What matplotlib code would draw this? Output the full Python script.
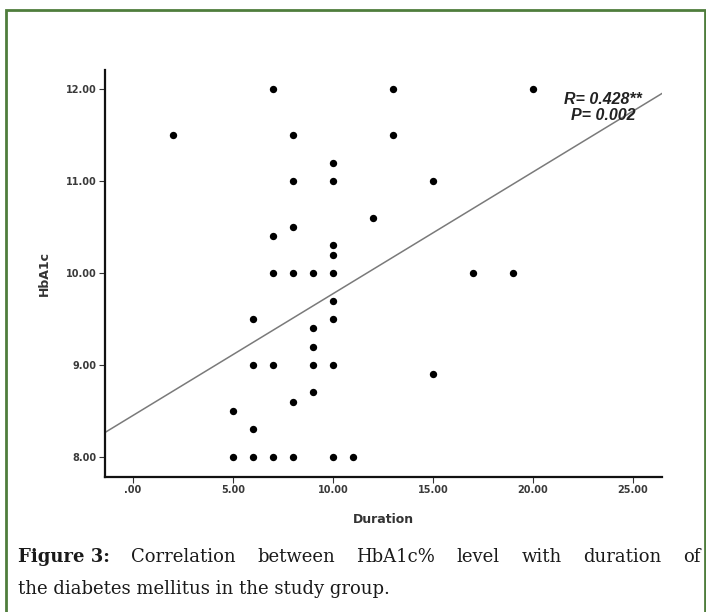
import numpy as np
import matplotlib
matplotlib.use("Agg")
from matplotlib import pyplot as plt
from matplotlib.patches import Rectangle

# durations (years) and HbA1c values
duration = [7, 13, 20,
            2, 8, 13,
            10,
            8, 10, 15,
            12, 8, 7, 10, 10,
            7, 8, 9, 10, 17, 19,
            10, 6, 10, 9, 9,
            6, 7, 9, 10,
            15, 9, 8, 5, 6,
            5, 6, 7, 8, 10, 11]
hba1c = [12.0, 12.0, 12.0,
         11.5, 11.5, 11.5,
         11.2,
         11.0, 11.0, 11.0,
         10.6, 10.5, 10.4, 10.3, 10.2,
         10.0, 10.0, 10.0, 10.0, 10.0, 10.0,
         9.7, 9.5, 9.5, 9.4, 9.2,
         9.0, 9.0, 9.0, 9.0,
         8.9, 8.7, 8.6, 8.5, 8.3,
         8.0, 8.0, 8.0, 8.0, 8.0, 8.0]

# fit line as drawn in the figure
fit_intercept = 8.45
fit_slope = 0.1325

x_ticks = [0, 5, 10, 15, 20, 25]
x_labels = ['.00', '5.00', '10.00', '15.00', '20.00', '25.00']
y_ticks = [8, 9, 10, 11, 12]
y_labels = ['8.00', '9.00', '10.00', '11.00', '12.00']

stats_text = 'R= 0.428**\nP= 0.002'
caption_bold = 'Figure 3:'
caption_line1 = 'Correlation between HbA1c% level with duration of'
caption_line2 = 'the diabetes mellitus in the study group.'

W, H = 706, 612
fig = plt.figure(figsize=(W / 100, H / 100), dpi=100)
fig.patch.set_facecolor('white')

ax = fig.add_axes([105 / W, 1 - 477 / H, (662 - 105) / W, (477 - 70) / H])
ax.set_xlim(-1.4, 26.45)
ax.set_ylim(7.78, 12.21)

ax.scatter(duration, hba1c, s=28, color='black', zorder=3, linewidths=0)

xl = np.array(ax.get_xlim())
ax.plot(xl, fit_intercept + fit_slope * xl, color='#7a7a7a', lw=1.1, zorder=2)

for s in ['top', 'right']:
    ax.spines[s].set_visible(False)
for s in ['left', 'bottom']:
    ax.spines[s].set_linewidth(1.6)
    ax.spines[s].set_color('#111111')

ax.set_xticks(x_ticks)
ax.set_xticklabels(x_labels)
ax.set_yticks(y_ticks)
ax.set_yticklabels(y_labels)
ax.tick_params(length=4, width=0.8, color='#333333', pad=2)
for lab in ax.get_xticklabels() + ax.get_yticklabels():
    lab.set_fontfamily('DejaVu Sans')
    lab.set_fontweight('bold')
    lab.set_fontsize(7)
    lab.set_color('#3a3a3a')

ax.set_xlabel('Duration', fontfamily='DejaVu Sans', fontweight='bold',
              fontsize=9, color='#333333', labelpad=13)
ax.set_ylabel('HbA1c', fontfamily='DejaVu Sans', fontweight='bold',
              fontsize=9, color='#333333', labelpad=11)

ax.text(0.964, 0.945, stats_text, transform=ax.transAxes, ha='right', va='top',
        fontfamily='Liberation Sans', fontweight='bold', fontstyle='italic',
        fontsize=11.5, color='#222222', linespacing=1.05, multialignment='center')

# green frame round the figure box
fig.add_artist(Rectangle((6 / W, -0.05), (705 - 6) / W, 1 - 10 / H + 0.05,
                         transform=fig.transFigure, fill=False,
                         edgecolor='#4f7d3c', lw=2))

# caption, first line justified
cap_kw = dict(fontfamily='DejaVu Serif', fontsize=13, color='#1a1a1a',
              va='baseline', ha='left')
left, right = 18, 700
y1 = 1 - 562 / H
y2 = 1 - 594 / H
words = [(caption_bold, 'bold')] + [(w, 'normal') for w in caption_line1.split()]
texts = [fig.text(0, y1, w, fontweight=wt, **cap_kw) for w, wt in words]
fig.canvas.draw()
r = fig.canvas.get_renderer()
widths = [t.get_window_extent(r).width for t in texts]
gap = (right - left - sum(widths)) / (len(texts) - 1)
xpos = left
for t, wd in zip(texts, widths):
    t.set_x(xpos / W)
    xpos += wd + gap
fig.text(left / W, y2, caption_line2, **cap_kw)

fig.savefig('out.png', dpi=100)
